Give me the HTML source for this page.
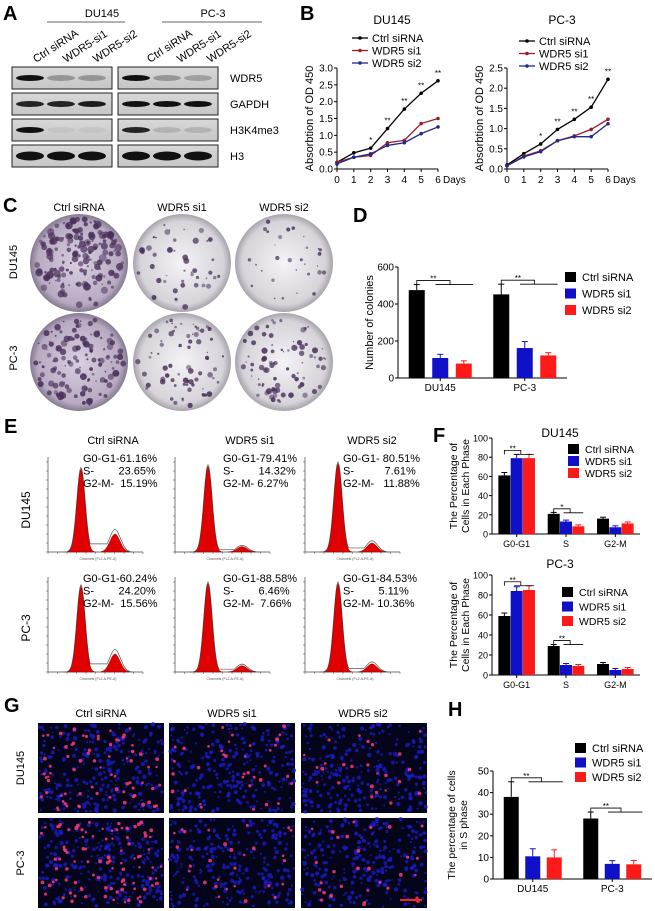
<!DOCTYPE html>
<html><head><meta charset="utf-8">
<style>
html,body{margin:0;padding:0;background:#fff;}
svg{display:block;font-family:"Liberation Sans",Arial,sans-serif;}
.pre{white-space:pre;}
</style></head>
<body>
<svg id="fig" width="655" height="911" viewBox="0 0 655 911" xmlns="http://www.w3.org/2000/svg">
<defs>
<radialGradient id="plateGrad" cx="50%" cy="50%" r="50%">
<stop offset="0%" stop-color="#f4f3f6"/><stop offset="85%" stop-color="#d6d3d9"/><stop offset="100%" stop-color="#a8a3ac"/>
</radialGradient>
<radialGradient id="plateGradDark" cx="50%" cy="50%" r="50%">
<stop offset="0%" stop-color="#d8cfe0"/><stop offset="85%" stop-color="#b7aac2"/><stop offset="100%" stop-color="#857a90"/>
</radialGradient>
<linearGradient id="bandGrad" x1="0" y1="0" x2="0" y2="1">
<stop offset="0%" stop-color="#d8d8d8"/><stop offset="100%" stop-color="#c6c6c6"/>
</linearGradient>
</defs>

<!-- Panel A -->
<g>
<text x="3" y="20" font-size="20" font-weight="bold">A</text>
<text x="102" y="17" font-size="11" text-anchor="middle">DU145</text>
<line x1="47" y1="22" x2="125" y2="22" stroke="#333" stroke-width="0.8"/>
<text x="213" y="17" font-size="11" text-anchor="middle">PC-3</text>
<line x1="162" y1="22" x2="262" y2="22" stroke="#333" stroke-width="0.8"/>
<g font-size="11">
<text transform="translate(36,63) rotate(-33)">Ctrl siRNA</text>
<text transform="translate(66,63) rotate(-33)">WDR5-si1</text>
<text transform="translate(96,63) rotate(-33)">WDR5-si2</text>
<text transform="translate(150,63) rotate(-33)">Ctrl siRNA</text>
<text transform="translate(180,63) rotate(-33)">WDR5-si1</text>
<text transform="translate(210,63) rotate(-33)">WDR5-si2</text>
</g>
<g id="blots"></g>
</g>

<!-- Panel B -->
<g>
<text x="300" y="20" font-size="20" font-weight="bold">B</text>
<g id="growth"></g>
</g>

<!-- Panel C -->
<g>
<text x="3" y="212" font-size="20" font-weight="bold">C</text>
<text x="79" y="211" font-size="11" text-anchor="middle">Ctrl siRNA</text>
<text x="182" y="211" font-size="11" text-anchor="middle">WDR5 si1</text>
<text x="284" y="211" font-size="11" text-anchor="middle">WDR5 si2</text>
<text transform="translate(17,262) rotate(-90)" font-size="11" text-anchor="middle">DU145</text>
<text transform="translate(17,358) rotate(-90)" font-size="11" text-anchor="middle">PC-3</text>
<g id="plates"></g>
</g>

<!-- Panel D -->
<g>
<text x="353" y="222" font-size="20" font-weight="bold">D</text>
<g id="chartD"></g>
</g>

<!-- Panel E -->
<g>
<text x="4" y="433" font-size="20" font-weight="bold">E</text>
<text x="113" y="444" font-size="11" text-anchor="middle">Ctrl siRNA</text>
<text x="250" y="444" font-size="11" text-anchor="middle">WDR5 si1</text>
<text x="372" y="444" font-size="11" text-anchor="middle">WDR5 si2</text>
<text transform="translate(30,510) rotate(-90)" font-size="12" text-anchor="middle">DU145</text>
<text transform="translate(30,628) rotate(-90)" font-size="12" text-anchor="middle">PC-3</text>
<g id="hists"></g>
</g>

<!-- Panel F -->
<g>
<text x="433" y="442" font-size="20" font-weight="bold">F</text>
<g id="chartF"></g>
</g>

<!-- Panel G -->
<g>
<text x="4" y="712" font-size="20" font-weight="bold">G</text>
<text x="101" y="717" font-size="11" text-anchor="middle">Ctrl siRNA</text>
<text x="232" y="717" font-size="11" text-anchor="middle">WDR5 si1</text>
<text x="363" y="717" font-size="11" text-anchor="middle">WDR5 si2</text>
<text transform="translate(24,768) rotate(-90)" font-size="11" text-anchor="middle">DU145</text>
<text transform="translate(24,863) rotate(-90)" font-size="11" text-anchor="middle">PC-3</text>
<g id="micro"></g>
</g>

<!-- Panel H -->
<g>
<text x="448" y="716" font-size="20" font-weight="bold">H</text>
<g id="chartH"></g>
</g>
</svg>

<script>
// ---------- data ----------
const blotRows = ["WDR5","GAPDH","H3K4me3","H3"];
const blotIntensity = [[1,0.3,0.3,1,0.3,0.25],[0.9,0.9,0.95,1,1,1],[1,0.05,0.05,0.9,0.15,0.15],[1,1,1,1,1,1]];

const days = [0,1,2,3,4,5,6];
const duCtrl = [0.2,0.48,0.62,1.2,1.78,2.25,2.62];
const duSi1  = [0.2,0.35,0.4,0.78,0.85,1.35,1.5];
const duSi2  = [0.15,0.35,0.45,0.7,0.78,1.05,1.25];
const pcCtrl = [0.1,0.38,0.62,0.98,1.23,1.53,2.22];
const pcSi1  = [0.08,0.32,0.45,0.7,0.82,0.98,1.23];
const pcSi2  = [0.08,0.3,0.43,0.7,0.8,0.8,1.12];
const duTicks = [0,0.5,1,1.5,2,2.5,3];
const pcTicks = [0,0.5,1,1.5,2,2.5];

const dGroups = ["DU145","PC-3"];
const dCtrl = [475,452], dSi1 = [108,162], dSi2 = [78,122];
const dCtrlErr = [30,55], dSi1Err = [20,35], dSi2Err = [15,15];
const dTicks = [0,200,400,600];

const phases = ["G0-G1","S","G2-M"];
const fDuCtrl = [61,21,16], fDuSi1 = [79,13,7], fDuSi2 = [79,8,11];
const fPcCtrl = [59,29,11], fPcSi1 = [84,10,5], fPcSi2 = [85,9,6];
const fTicks = [0,20,40,60,80,100];

const hGroups = ["DU145","PC-3"];
const hCtrl = [38,28], hSi1 = [10.5,7], hSi2 = [10,6.8];
const hCtrlErr = [7,3], hSi1Err = [3.5,1.5], hSi2Err = [3.5,1.8];
const hTicks = [0,10,20,30,40,50];

const legendNames = ["Ctrl siRNA","WDR5 si1","WDR5 si2"];
const ecycle = [
 ["G0-G1-61.16%","S-        23.65%","G2-M-  15.19%"],
 ["G0-G1-79.41%","S-        14.32%","G2-M- 6.27%"],
 ["G0-G1- 80.51%","S-          7.61%","G2-M-   11.88%"],
 ["G0-G1-60.24%","S-        24.20%","G2-M-  15.56%"],
 ["G0-G1-88.58%","S-        6.46%","G2-M-  7.66%"],
 ["G0-G1-84.53%","S-        5.11%","G2-M- 10.36%"]];
const g1Height = [0.92,0.95,0.98,0.95,0.98,0.98];
const g2Height = [0.2,0.06,0.1,0.2,0.07,0.09];

// ---------- helpers ----------
const NS="http://www.w3.org/2000/svg";
function mk(parent,tag,attrs,txt){const e=document.createElementNS(NS,tag);for(const k in attrs)e.setAttribute(k,attrs[k]);if(txt!==undefined)e.textContent=txt;parent.appendChild(e);return e;}
let seed=7;function rnd(){seed=(seed*16807)%2147483647;return seed/2147483647;}

// ---------- A: blots ----------
(function(){
 const g=document.getElementById('blots');
 const rowY=[67,93,119,145];
 blotRows.forEach((name,r)=>{
  [12,118].forEach((bx,b)=>{
   const box=mk(g,'rect',{x:bx,y:rowY[r],width:100,height:22,fill:'url(#bandGrad)',stroke:'#222','stroke-width':1});
   
   
   for(let l=0;l<3;l++){
    const it=blotIntensity[r][b*3+l];
    const cx=bx+18+l*31;
    const h= name==="H3"?9:6;
    mk(g,'ellipse',{cx:cx,cy:rowY[r]+11,rx:14,ry:h/2,fill:'#111',opacity:Math.max(0.05,it)});
   }
  });
  const t=mk(g,'text',{x:230,y:rowY[r]+15,'font-size':11},name);
  
  
 });
})();

// ---------- B: growth ----------
function growthChart(cfg){
 const g=document.getElementById('growth');
 const x=d=>cfg.x0+(cfg.x1-cfg.x0)*d/6;
 const y=v=>cfg.y0-(cfg.y0-cfg.yTop)*v/cfg.ymax;
 mk(g,'text',{x:cfg.titleX,y:24,'font-size':12,'text-anchor':'middle'},cfg.title);
 mk(g,'line',{x1:cfg.x0,y1:y(0),x2:cfg.x0,y2:y(cfg.ymax),stroke:'#000'});
 mk(g,'line',{x1:cfg.x0,y1:y(0),x2:cfg.x1,y2:y(0),stroke:'#000'});
 cfg.ticks.forEach(v=>{mk(g,'line',{x1:cfg.x0-3,y1:y(v),x2:cfg.x0,y2:y(v),stroke:'#000'});
  mk(g,'text',{x:cfg.x0-4,y:y(v)+3.5,'font-size':10,'text-anchor':'end'},v.toFixed(1));});
 days.forEach(d=>{mk(g,'line',{x1:x(d),y1:y(0),x2:x(d),y2:y(0)+3,stroke:'#000'});
  mk(g,'text',{x:x(d),y:y(0)+14,'font-size':10,'text-anchor':'middle'},d);});
 mk(g,'text',{x:cfg.x1+5,y:y(0)+14,'font-size':10},'Days');
 mk(g,'text',{transform:`translate(${cfg.x0-24},${(y(0)+y(cfg.ymax))/2}) rotate(-90)`,'font-size':11,'text-anchor':'middle'},'Absorbtion of OD 450');
 const cols=['#000','#9b1b2a','#1f2a8c'];
 cfg.series.forEach((s,i)=>{
  const pts=days.map(d=>x(d)+','+y(s[d])).join(' ');
  const pl=mk(g,'polyline',{points:pts,fill:'none',stroke:cols[i],'stroke-width':1.3});
  
  
  days.forEach(d=>mk(g,'circle',{cx:x(d),cy:y(s[d]),r:1.8,fill:cols[i]}));
  const ly=cfg.legY+i*12.5;
  mk(g,'line',{x1:cfg.legX,y1:ly,x2:cfg.legX+16,y2:ly,stroke:cols[i],'stroke-width':1.3});
  mk(g,'circle',{cx:cfg.legX+8,cy:ly,r:1.8,fill:cols[i]});
  mk(g,'text',{x:cfg.legX+20,y:ly+4,'font-size':11},legendNames[i]);
 });
 cfg.stars.forEach((st,d)=>{if(st)mk(g,'text',{x:x(d),y:y(cfg.series[0][d])-5,'font-size':8,'text-anchor':'middle'},st);});
}
growthChart({key:'du145',title:'DU145',titleX:392,x0:337,x1:438,y0:169,yTop:68,ymax:3,ticks:duTicks,series:[duCtrl,duSi1,duSi2],legX:352,legY:38,stars:['','','*','**','**','**','**']});
growthChart({key:'pc3',title:'PC-3',titleX:562,x0:507,x1:608,y0:169,yTop:68,ymax:2.5,ticks:pcTicks,series:[pcCtrl,pcSi1,pcSi2],legX:519,legY:41,stars:['','','*','**','**','**','**']});

// ---------- C: plates ----------
(function(){
 const g=document.getElementById('plates');
 const cx=[79,182,284], cy=[263,362];
 const n=[[160,45,30],[120,70,80]];
 const big=[[3.2,2.4,1.6],[2.8,2.2,2.4]];
 cy.forEach((yy,r)=>cx.forEach((xx,c)=>{
  const pg=mk(g,'g',{});
  
  
  mk(pg,'circle',{cx:xx,cy:yy,r:49,fill:c==0?'url(#plateGradDark)':'url(#plateGrad)'});
  for(let i=0;i<n[r][c];i++){const a=rnd()*6.283,rr=Math.sqrt(rnd())*45;
   mk(pg,'circle',{cx:xx+rr*Math.cos(a),cy:yy+rr*Math.sin(a),r:0.7+rnd()*big[r][c],fill:'#4a2f5a',opacity:0.5+rnd()*0.4});}
 }));
})();

// ---------- bar chart helper ----------
const barCols=['#000','#1010c8','#ff1a1a'];
function barChart(g,cfg){
 const y=v=>cfg.y0-(cfg.y0-cfg.yTop)*v/cfg.ymax;
 mk(g,'line',{x1:cfg.x0,y1:y(0),x2:cfg.x0,y2:y(cfg.ymax),stroke:'#000'});
 mk(g,'line',{x1:cfg.x0,y1:y(0),x2:cfg.x1,y2:y(0),stroke:'#000'});
 cfg.ticks.forEach(v=>{mk(g,'line',{x1:cfg.x0-3,y1:y(v),x2:cfg.x0,y2:y(v),stroke:'#000'});
  mk(g,'text',{x:cfg.x0-4,y:y(v)+3.5,'font-size':cfg.fs,'text-anchor':'end'},v);});
 const nG=cfg.groups.length, gw=(cfg.x1-cfg.x0)/nG;
 cfg.groups.forEach((gn,gi)=>{
  const gc=cfg.x0+gw*(gi+0.5);
  mk(g,'line',{x1:gc,y1:y(0),x2:gc,y2:y(0)+3,stroke:'#000'});
  mk(g,'text',{x:gc,y:y(0)+13,'font-size':cfg.fs,'text-anchor':'middle'},gn);
  cfg.series.forEach((s,si)=>{
   const bx=gc+(si-1.5)*cfg.step+(cfg.step-cfg.bw)/2;
   const b=mk(g,'rect',{x:bx,y:y(s[gi]),width:cfg.bw,height:y(0)-y(s[gi]),fill:barCols[si]});
   
   
   const e=cfg.errs?cfg.errs[si][gi]:Math.max(1.5,s[gi]*0.05);
   const mx=bx+cfg.bw/2;
   mk(g,'line',{x1:mx,y1:y(s[gi]),x2:mx,y2:y(s[gi]+e),stroke:barCols[si]});
   mk(g,'line',{x1:mx-3,y1:y(s[gi]+e),x2:mx+3,y2:y(s[gi]+e),stroke:barCols[si]});
  });
  if(cfg.sig&&cfg.sig[gi]){
   const top=Math.max(...cfg.series.map((s,si)=>s[gi]+(cfg.errs?cfg.errs[si][gi]:s[gi]*0.05)));
   const by=y(top)-4, x0=gc-1.5*cfg.step+cfg.step/2, xm=gc+0.5*cfg.step-2;
   mk(g,'path',{d:`M${x0},${by+4}V${by}H${xm}V${by+4}`,fill:'none',stroke:'#000','stroke-width':0.8});
   mk(g,'line',{x1:gc-0.2*cfg.step,y1:by+4,x2:gc+1.4*cfg.step,y2:by+4,stroke:'#000','stroke-width':0.8});
   mk(g,'text',{x:(x0+xm)/2,y:by+1,'font-size':8,'text-anchor':'middle'},cfg.sig[gi]);
  }
 });
 cfg.ylab.forEach((l,i)=>mk(g,'text',{transform:`translate(${cfg.ylx+i*12},${(y(0)+y(cfg.ymax))/2}) rotate(-90)`,'font-size':cfg.yfs,'text-anchor':'middle'},l));
 legendNames.forEach((n,i)=>{const ly=cfg.legY+i*cfg.legStep;
  mk(g,'rect',{x:cfg.legX,y:ly-5,width:11,height:10,fill:barCols[i]});
  mk(g,'text',{x:cfg.legX+17,y:ly+4,'font-size':cfg.legFs},n);});
 if(cfg.title)mk(g,'text',{x:cfg.titleX,y:cfg.titleY,'font-size':12,'text-anchor':'middle'},cfg.title);
}

barChart(document.getElementById('chartD'),{key:'colonies',x0:398,x1:567,y0:378,yTop:267,ymax:600,ticks:dTicks,fs:10,groups:dGroups,
 series:[dCtrl,dSi1,dSi2],errs:[dCtrlErr,dSi1Err,dSi2Err],bw:16,step:23.5,sig:['**','**'],ylab:['Number of colonies'],ylx:373,yfs:11,
 legX:565,legY:277,legStep:16.5,legFs:11});

barChart(document.getElementById('chartF'),{key:'du145-phase',x0:492,x1:640,y0:534,yTop:438,ymax:100,ticks:fTicks,fs:9,groups:phases,
 series:[fDuCtrl,fDuSi1,fDuSi2],bw:12,step:12.3,sig:['**','*',''],ylab:['The Percentage of','Cells in Each Phase'],ylx:457,yfs:10.5,
 legX:568,legY:449,legStep:12,legFs:10.5,title:'DU145',titleX:560,titleY:437});
barChart(document.getElementById('chartF'),{key:'pc3-phase',x0:492,x1:640,y0:675,yTop:575,ymax:100,ticks:fTicks,fs:9,groups:phases,
 series:[fPcCtrl,fPcSi1,fPcSi2],bw:12,step:12.3,sig:['**','**',''],ylab:['The Percentage of','Cells in Each Phase'],ylx:457,yfs:10.5,
 legX:562,legY:592,legStep:14.5,legFs:10.5,title:'PC-3',titleX:560,titleY:568});

barChart(document.getElementById('chartH'),{key:'s-phase',x0:493,x1:652,y0:879,yTop:771,ymax:50,ticks:hTicks,fs:10,groups:hGroups,
 series:[hCtrl,hSi1,hSi2],errs:[hCtrlErr,hSi1Err,hSi2Err],bw:15,step:21.5,sig:['**','**'],ylab:['The percentage of cells','in S phase'],ylx:455,yfs:10.5,
 legX:575,legY:748,legStep:14.5,legFs:11});

// ---------- E: histograms ----------
(function(){
 const g=document.getElementById('hists');
 const ax=[48,175,305], base=[552,672], textX=[83,223,343], textY=[462,582];
 for(let r=0;r<2;r++)for(let c=0;c<3;c++){
  const k=r*3+c, x0=ax[c], b=base[r], H=90;
  const hg=mk(g,'g',{});
  
  
  mk(hg,'line',{x1:x0,y1:b,x2:x0+95,y2:b,stroke:'#444','stroke-width':0.7});
  mk(hg,'line',{x1:x0,y1:b,x2:x0,y2:b-95,stroke:'#444','stroke-width':0.7});
  for(let t=0;t<=10;t++){mk(hg,'line',{x1:x0-2,y1:b-t*9,x2:x0,y2:b-t*9,stroke:'#444','stroke-width':0.5});
   mk(hg,'line',{x1:x0+t*9.5,y1:b,x2:x0+t*9.5,y2:b+2,stroke:'#444','stroke-width':0.5});}
  const p1=x0+33, p2=x0+67;
  const gauss=(xx,m,s,h)=>h*Math.exp(-((xx-m)*(xx-m))/(2*s*s));
  let d1=`M${p1-14},${b}`,d2=`M${p2-14},${b}`,d3=`M${x0+15},${b}`;
  for(let xx=p1-14;xx<=p1+14;xx++)d1+=`L${xx},${b-gauss(xx,p1,4,H*g1Height[k])}`;
  for(let xx=p2-14;xx<=p2+14;xx++)d2+=`L${xx},${b-gauss(xx,p2,5,H*g2Height[k])}`;
  for(let xx=x0+15;xx<=x0+85;xx++){const sv=(xx>p1&&xx<p2)?H*g2Height[k]*0.45:0;d3+=`L${xx},${b-Math.max(gauss(xx,p1,4.2,H*g1Height[k]*1.02),gauss(xx,p2,5.5,H*g2Height[k]*1.25),sv*Math.min(1,(xx-p1)/8))}`;}
  d1+=`L${p1+14},${b}Z`; d2+=`L${p2+14},${b}Z`;
  mk(hg,'path',{d:d3,fill:'none',stroke:'#555','stroke-width':0.7});
  mk(hg,'path',{d:d1,fill:'#e00000',stroke:'#700','stroke-width':0.4});
  mk(hg,'path',{d:d2,fill:'#e00000',stroke:'#700','stroke-width':0.4});
  mk(hg,'text',{x:x0+50,y:b+8,'font-size':3.5,'text-anchor':'middle',fill:'#555'},'Channels (FL2-A-PE-A)');
  ecycle[k].forEach((ln,i)=>mk(hg,'text',{x:textX[c],y:textY[r]+i*12.5,'font-size':11,'class':'pre'},ln));
 }
})();

// ---------- G: microscopy ----------
(function(){
 const g=document.getElementById('micro');
 const xs=[38,169,301], ys=[723,818], hh=[90,90], ww=126;
 const redN=[[75,35,25],[95,30,30]];
 ys.forEach((yy,r)=>xs.forEach((xx,c)=>{
  const mg=mk(g,'g',{});
  
  
  mk(mg,'rect',{x:xx,y:yy,width:ww,height:hh[r],fill:'#04041a'});
  for(let i=0;i<260;i++)mk(mg,'circle',{cx:xx+1+rnd()*(ww-2),cy:yy+1+rnd()*(hh[r]-2),r:0.9+rnd()*1.3,fill:'#1c1ccc',opacity:0.75});
  for(let i=0;i<redN[r][c];i++)mk(mg,'circle',{cx:xx+3+rnd()*(ww-6),cy:yy+3+rnd()*(hh[r]-6),r:1.2+rnd()*0.8,fill:'#ff3a7a',opacity:0.85});
 }));
 mk(g,'line',{x1:400,y1:900,x2:422,y2:900,stroke:'#ff2020','stroke-width':2});
})();
</script>
</body></html>
